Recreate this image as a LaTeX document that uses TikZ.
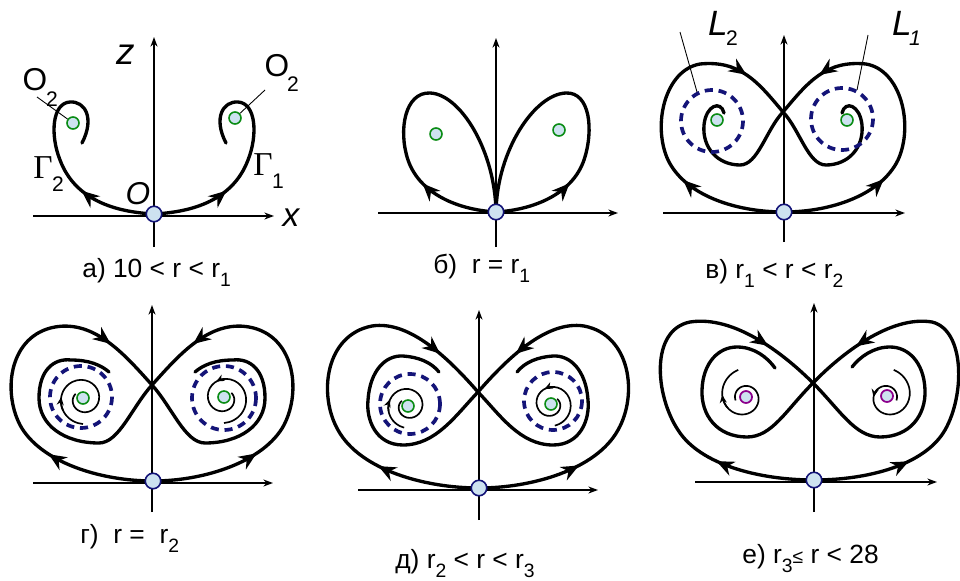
\documentclass[tikz,border=0pt]{standalone}
\usepackage{fontspec}
\setmainfont{Liberation Sans}
\newfontfamily\serifG{Liberation Serif}
\usetikzlibrary{arrows.meta,decorations.markings}
\definecolor{navyd}{RGB}{20,20,120}
\definecolor{dotfill}{RGB}{205,226,240}
\definecolor{dotgreen}{RGB}{10,140,20}
\definecolor{dotpurple}{RGB}{140,0,140}
\newcommand\sbs[1]{\raisebox{-0.19cm}{\fontsize{11}{11}\selectfont #1}}
\begin{document}
\begin{tikzpicture}[x=0.02cm,y=-0.02cm,
  axis/.style={line width=0.75pt,-{Stealth[length=5.5pt,width=4pt]}},
  traj/.style={line width=1.9pt,line cap=round},
  arrat/.style={postaction={decorate,decoration={markings,mark=at position #1 with {\arrow{Stealth[length=10pt,width=8.5pt]}}}}},
  spiral/.style={line width=0.95pt},
  sarrow/.style={line width=0.95pt,-{Stealth[length=4.5pt,width=4pt]}},
  lc/.style={navyd,line width=2.1pt,dash pattern=on 4.6pt off 3.3pt},
  orig/.style={circle,draw=navyd,fill=dotfill,line width=0.9pt,minimum size=0.31cm,inner sep=0pt},
  gdot/.style={circle,draw=dotgreen,fill=dotfill,line width=0.9pt,minimum size=0.24cm,inner sep=0pt},
  pdot/.style={circle,draw=dotpurple,fill=dotfill,line width=1pt,minimum size=0.24cm,inner sep=0pt},
  captxt/.style={anchor=base west,font=\fontsize{15}{17}\selectfont,inner sep=0pt},
  lead/.style={line width=0.5pt},
  lbl/.style={inner sep=0pt,font=\fontsize{18}{18}\selectfont},
  sublbl/.style={inner sep=0pt,font=\fontsize{12}{12}\selectfont},
]
\fill[white] (0,0) rectangle (960,581);
\useasboundingbox (0,0) rectangle (960,581);

% ---------------- panel a ----------------
\coordinate (Oa) at (154,214);
\draw[axis] (33,216) -- (274,216);
\draw[axis] (154,247) -- (154,37);
\draw[traj,arrat=0.33] (Oa) .. controls (115,212) and (75,200) .. (60,160) .. controls (50,135) and (52,103) .. (70,102) .. controls (85,101) and (95,118) .. (82,143);
\draw[traj,arrat=0.33] (Oa) .. controls (193,212) and (233,200) .. (248,160) .. controls (258,135) and (256,103) .. (238,102) .. controls (223,101) and (213,118) .. (226,143);
\node[gdot] (o2l) at (73,123) {};
\node[gdot] (o2r) at (235,118) {};
\coordinate (la1) at (37,97);
\coordinate (la2) at (265,90);
\draw[lead] (la1) -- (o2l);
\draw[lead] (la2) -- (o2r);
\node[lbl] (tO2l) at (35,80) {O};
\node[sublbl] (tO2ls) at (52,99) {2};
\node[lbl] (tO2r) at (277,66) {O};
\node[sublbl] (tO2rs) at (293,84) {2};
\node[lbl,font=\itshape\fontsize{21}{21}\selectfont] (tz) at (126,55) {z};
\node[lbl,font=\itshape\fontsize{19}{19}\selectfont] (tx) at (291,218) {x};
\node[lbl,font=\itshape\fontsize{18}{18}\selectfont] (tO) at (138,194) {O};
\node[lbl,font=\serifG\fontsize{19}{19}\selectfont] (tG2) at (43,168) {Γ};
\node[sublbl] (tG2s) at (58,184) {2};
\node[lbl,font=\serifG\fontsize{19}{19}\selectfont] (tG1) at (263,165) {Γ};
\node[sublbl] (tG1s) at (278,181) {1};
\node[orig] (oa) at (Oa) {};
\node[captxt] (capa) at (82,277) {а) 10 < r < r\sbs{1}};

% ---------------- panel b ----------------
\coordinate (Ob) at (496,212);
\draw[axis] (378,213) -- (618,213);
\draw[axis] (496,247) -- (496,38);
\draw[traj,arrat=0.24] (Ob) .. controls (460,210) and (420,195) .. (408,160) .. controls (398,130) and (405,92) .. (430,93) .. controls (460,94) and (495,150) .. (Ob);
\draw[traj,arrat=0.24] (Ob) .. controls (532,210) and (572,195) .. (584,160) .. controls (594,130) and (590,92) .. (566,93) .. controls (535,94) and (497,150) .. (Ob);
\node[gdot] (bl) at (436,134) {};
\node[gdot] (br) at (559,130) {};
\node[orig] (ob) at (Ob) {};
\node[captxt] (capb) at (433,273) {б)\ \ r = r\sbs{1}};

% ---------------- panel v ----------------
\coordinate (Ov) at (784,212);
\coordinate (Xv) at (783,112);
\draw[axis] (663,213) -- (905,213);
\draw[axis] (784,242) -- (784,35);
\draw[traj,arrat=0.31,arrat=0.85] (Ov) .. controls (735,212) and (685,195) .. (668,160) .. controls (652,125) and (665,70) .. (700,64) .. controls (740,60) and (758,82) .. (Xv);
\draw[traj] (Xv) .. controls (800,130) and (808,165) .. (826,165) .. controls (848,165) and (864,148) .. (862,125) .. controls (860,105) and (845,100) .. (842,113);
\draw[traj,arrat=0.31,arrat=0.85] (Ov) .. controls (831,212) and (881,195) .. (898,160) .. controls (914,125) and (901,70) .. (866,64) .. controls (826,60) and (808,82) .. (Xv);
\draw[traj] (Xv) .. controls (766,130) and (758,165) .. (740,165) .. controls (718,165) and (702,148) .. (704,125) .. controls (706,105) and (721,100) .. (724,113);
\draw[lc] (712,121) circle[radius=31];
\draw[lc] (842,119) circle[radius=31];
\node[gdot] (vl) at (717,120) {};
\node[gdot] (vr) at (847,120) {};
\coordinate (lv1) at (680,32);
\coordinate (lv1e) at (697,92);
\coordinate (lv2) at (868,35);
\coordinate (lv2e) at (857,90);
\draw[lead] (lv1) -- (lv1e);
\draw[lead] (lv2) -- (lv2e);
\node[lbl,font=\itshape\fontsize{20}{20}\selectfont] (tL2) at (718,23) {L};
\node[sublbl] (tL2s) at (732,38) {2};
\node[lbl,font=\itshape\fontsize{20}{20}\selectfont] (tL1) at (902,23) {L};
\node[sublbl,font=\itshape\fontsize{12}{12}\selectfont] (tL1s) at (915,38) {1};
\node[orig] (ov) at (Ov) {};
\node[captxt] (capv) at (705,278) {в) r\sbs{1} < r < r\sbs{2}};

% ---------------- panel g ----------------
\coordinate (Og) at (153,481);
\coordinate (Xg) at (152,385);
\draw[axis] (33,483) -- (273,483);
\draw[axis] (152,512) -- (152,305);
\draw[traj,arrat=0.28,arrat=0.85] (Og) .. controls (100,481) and (40,462) .. (20,425) .. controls (2,390) and (10,335) .. (55,327) .. controls (95,320) and (125,355) .. (Xg);
\draw[traj] (Xg) .. controls (172,407) and (185,443) .. (205,443) .. controls (240,443) and (265,425) .. (265,398) .. controls (265,370) and (250,358) .. (233,360) .. controls (215,360) and (203,365) .. (195,372);
\draw[traj,arrat=0.28,arrat=0.85] (Og) .. controls (204,481) and (264,462) .. (284,425) .. controls (302,390) and (294,335) .. (249,327) .. controls (209,320) and (179,355) .. (Xg);
\draw[traj] (Xg) .. controls (132,407) and (119,443) .. (99,443) .. controls (64,443) and (39,425) .. (39,398) .. controls (39,370) and (54,358) .. (71,360) .. controls (89,360) and (101,365) .. (109,372);
\draw[lc] (81,397) circle[radius=31];
\draw[lc] (224,398) circle[radius=32];
\draw[spiral] plot[domain=90:575,samples=40,smooth] ({83+(25-16*(\x-90)/485)*cos(\x)},{399+(25-16*(\x-90)/485)*sin(\x)});
\draw[sarrow] plot[domain=150:185,samples=5,smooth] ({83+(25-16*(\x-90)/485)*cos(\x)},{399+(25-16*(\x-90)/485)*sin(\x)});
\draw[spiral] plot[domain=90:575,samples=40,smooth] ({224-(25-16*(\x-90)/485)*cos(\x)},{398+(25-16*(\x-90)/485)*sin(\x)});
\draw[sarrow] plot[domain=260:295,samples=5,smooth] ({224-(25-16*(\x-90)/485)*cos(\x)},{398+(25-16*(\x-90)/485)*sin(\x)});
\node[gdot] (gl) at (83,398) {};
\node[gdot] (gr) at (224,397) {};
\node[orig] (og) at (Og) {};
\node[captxt] (capg) at (80,543) {г)\ \ r =\ \ r\sbs{2}};

% ---------------- panel d ----------------
\coordinate (Od) at (479,488);
\coordinate (Xd) at (478,392);
\draw[axis] (358,490) -- (598,490);
\draw[axis] (479,520) -- (479,310);
\draw[traj,arrat=0.25,arrat=0.87] (Od) .. controls (425,488) and (360,470) .. (338,430) .. controls (318,395) and (325,335) .. (372,326) .. controls (410,320) and (450,360) .. (Xd);
\draw[traj] (Xd) .. controls (500,415) and (520,445) .. (553,445) .. controls (580,445) and (590,420) .. (588,400) .. controls (586,370) and (570,355) .. (553,356) .. controls (538,357) and (525,362) .. (517,372);
\draw[traj,arrat=0.25,arrat=0.87] (Od) .. controls (531,488) and (596,470) .. (618,430) .. controls (638,395) and (631,335) .. (584,326) .. controls (546,320) and (506,360) .. (Xd);
\draw[traj] (Xd) .. controls (456,415) and (436,445) .. (403,445) .. controls (376,445) and (366,420) .. (368,400) .. controls (370,370) and (386,355) .. (403,356) .. controls (418,357) and (431,362) .. (439,372);
\draw[lc] (410,404) circle[radius=30];
\draw[lc] (553,401) circle[radius=29];
\draw[spiral] plot[domain=100:580,samples=40,smooth] ({408+(22-14*(\x-100)/480)*cos(\x)},{406+(22-14*(\x-100)/480)*sin(\x)});
\draw[sarrow] plot[domain=165:200,samples=5,smooth] ({408+(22-14*(\x-100)/480)*cos(\x)},{406+(22-14*(\x-100)/480)*sin(\x)});
\draw[spiral] plot[domain=100:580,samples=40,smooth] ({551-(22-14*(\x-100)/480)*cos(\x)},{404+(22-14*(\x-100)/480)*sin(\x)});
\draw[sarrow] plot[domain=258:293,samples=5,smooth] ({551-(22-14*(\x-100)/480)*cos(\x)},{404+(22-14*(\x-100)/480)*sin(\x)});
\node[gdot] (dl) at (408,406) {};
\node[gdot] (dr) at (551,404) {};
\node[orig] (od) at (Od) {};
\node[captxt] (capd) at (395,568) {д) r\sbs{2} < r < r\sbs{3}};

% ---------------- panel e ----------------
\coordinate (Oe) at (814,480);
\coordinate (Xe) at (813,383);
\draw[axis] (695,482) -- (937,482);
\draw[axis] (814,512) -- (814,303);
\draw[traj,arrat=0.24,arrat=0.86] (Oe) .. controls (760,480) and (700,465) .. (678,430) .. controls (655,395) and (650,330) .. (690,322) .. controls (735,315) and (785,355) .. (Xe);
\draw[traj] (Xe) .. controls (840,410) and (855,437) .. (880,437) .. controls (910,437) and (926,415) .. (925,390) .. controls (924,362) and (908,347) .. (890,347) .. controls (873,347) and (860,357) .. (852,367);
\draw[traj,arrat=0.24,arrat=0.86] (Oe) .. controls (868,480) and (925,465) .. (945,430) .. controls (965,395) and (965,330) .. (932,322) .. controls (890,315) and (840,355) .. (Xe);
\draw[traj] (Xe) .. controls (786,410) and (772,437) .. (747,437) .. controls (717,437) and (701,415) .. (702,390) .. controls (703,362) and (719,347) .. (737,347) .. controls (754,347) and (767,357) .. (775,368);
\draw[spiral] plot[domain=-200:256,samples=45,smooth] ({745+(10+18*((\x+200)/456)^2)*cos(\x)},{397+(10+18*((\x+200)/456)^2)*sin(\x)});
\draw[sarrow] plot[domain=150:185,samples=5,smooth] ({745+(10+18*((\x+200)/456)^2)*cos(\x)},{397+(10+18*((\x+200)/456)^2)*sin(\x)});
\draw[spiral] plot[domain=-200:256,samples=45,smooth] ({887-(10+18*((\x+200)/456)^2)*cos(\x)},{397+(10+18*((\x+200)/456)^2)*sin(\x)});
\draw[sarrow] plot[domain=-40:0,samples=5,smooth] ({887-(10+18*((\x+200)/456)^2)*cos(\x)},{397+(10+18*((\x+200)/456)^2)*sin(\x)});
\node[pdot] (el) at (746,397) {};
\node[pdot] (er) at (887,396) {};
\node[orig] (oe) at (Oe) {};
\node[captxt] (cape) at (742,563) {е) r\sbs{3}{\fontsize{11}{11}\selectfont ≤} r < 28};
\end{tikzpicture}
\end{document}
